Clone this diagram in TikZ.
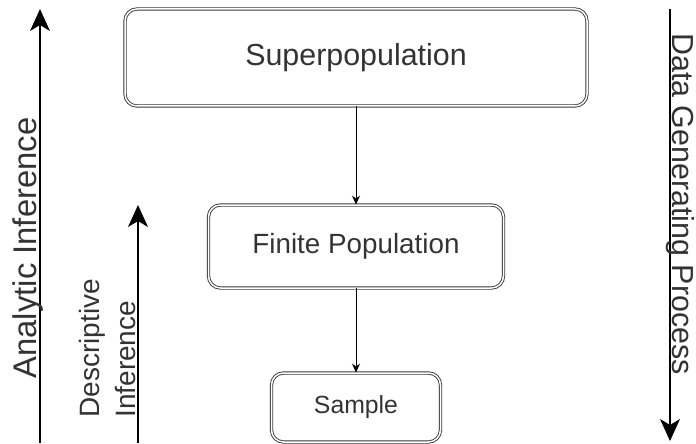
\documentclass[tikz,border=0pt]{standalone}
\usepackage{fontspec}
\setmainfont{Liberation Sans}
\usetikzlibrary{arrows.meta, positioning}
\definecolor{ink}{HTML}{333333}
\definecolor{edge}{HTML}{3a3a3a}

\tikzset{
  stagebox/.style={draw=edge, double, double distance=0.75pt, line width=0.45pt,
    rounded corners=6pt, fill=white, text=ink, inner sep=0pt},
  flow/.style={-{Stealth[length=4.5pt,width=4pt]}, line width=0.5pt, black},
  scopearrow/.style={-{Stealth[length=11pt,width=10pt,inset=3pt]}, line width=0.7pt, black},
  sidelabel/.style={text=ink, inner sep=0pt},
}

\begin{document}
\begin{tikzpicture}[x=0.5pt, y=-0.5pt]
  \useasboundingbox (0,0) rectangle (696,444);

  % Stages
  \node[stagebox, minimum width=231pt, minimum height=48.5pt, font=\fontsize{15.2}{18}\selectfont] (superpop) at (356,57.5) {Superpopulation};
  \node[stagebox, minimum width=147.5pt, minimum height=41.5pt, font=\fontsize{13.9}{17}\selectfont] (finite) at (356,246.5) {Finite Population};
  \node[stagebox, minimum width=84.5pt, minimum height=34.5pt, font=\fontsize{12.4}{15}\selectfont] (sample) at (356,407.5) {Sample};
  \draw[flow] (superpop) -- (finite);
  \draw[flow] (finite) -- (sample);

  % Inference arrows
  \coordinate (analytic bottom) at (40,443);
  \coordinate (analytic top) at (40,9);
  \draw[scopearrow] (analytic bottom) -- (analytic top);
  \node[sidelabel, rotate=90, anchor=base, font=\fontsize{16.4}{20}\selectfont] (analytic) at (36.5,248) {Analytic Inference};

  \coordinate (descriptive bottom) at (138,443);
  \coordinate (descriptive top) at (138,205);
  \draw[scopearrow] (descriptive bottom) -- (descriptive top);
  \node[sidelabel, rotate=90, anchor=south west, align=left, font=\fontsize{14}{18}\selectfont] (descriptive) at (136,418) {Descriptive\\Inference};

  % Data generating process
  \coordinate (datagen top) at (670,9);
  \coordinate (datagen bottom) at (670,441);
  \draw[scopearrow] (datagen top) -- (datagen bottom);
  \node[sidelabel, rotate=-90, anchor=base, font=\fontsize{15.2}{18}\selectfont] (datagen) at (672,204) {Data Generating Process};
\end{tikzpicture}
\end{document}
